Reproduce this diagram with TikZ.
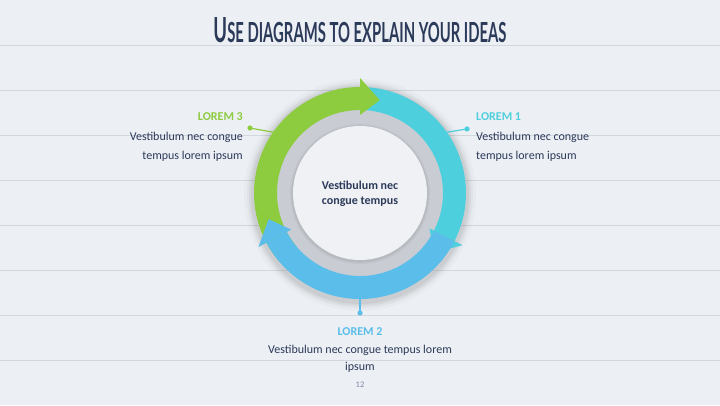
\documentclass[tikz,border=0pt]{standalone}
\usepackage{fontspec}
\setmainfont{Carlito}
\newfontfamily\titlefont{Lato}
\definecolor{bgc}{HTML}{ECEFF3}
\definecolor{rulec}{HTML}{D3D8DF}
\definecolor{navy}{HTML}{2C3A5A}
\definecolor{gr}{HTML}{8DCB3F}
\definecolor{cy}{HTML}{4ECFDD}
\definecolor{bl}{HTML}{5ABDEA}
\definecolor{ringgray}{HTML}{C9CDD3}
\definecolor{innerc}{HTML}{EFF1F4}
\definecolor{pagec}{HTML}{7A88A3}
\tikzset{
  ruleline/.style={rulec, line width=0.8pt},
  bodytext/.style={navy, font=\fontsize{12}{14}\selectfont, inner sep=0pt},
  boldtext/.style={navy, font=\bfseries\fontsize{12}{14}\selectfont, inner sep=0pt},
  labeltext/.style={font=\bfseries\fontsize{12}{14}\selectfont, inner sep=0pt},
  conn/.style={line width=1.2pt},
}
\newcommand{\ringbody}[3]{\fill[#1] (#2:106) arc[start angle=#2, end angle=#3, radius=106] -- (#3:83) arc[start angle=#3, end angle=#2, radius=83] -- cycle;}
\newcommand{\ringhead}[3]{\fill[#1] (#2:115) -- (#3:95) -- (#2:78) -- cycle;}
\begin{document}
\begin{tikzpicture}[x=1pt,y=1pt]
\fill[bgc] (0,0) rectangle (720,405);
\useasboundingbox (0,0) rectangle (720,405);
\foreach \yy in {45,90,...,360} {\draw[ruleline] (0,405-\yy) -- (720,405-\yy);}
% title
\node[navy, inner sep=0pt, anchor=base] (title) at (360,362) {\resizebox{293pt}{25pt}{\titlefont\bfseries\fontsize{35}{38}\selectfont U\fontsize{28}{30}\selectfont SE DIAGRAMS TO EXPLAIN YOUR IDEAS}};
% ring
\begin{scope}[shift={(360,212)}]
  \foreach \rr/\op in {116/0.02,113/0.03,111/0.04,109/0.05} {\fill[black,opacity=\op] (0,-2) circle (\rr);}
  \fill[ringgray] (0,0) circle (90);
  \foreach \rr/\op in {70/0.04,68.5/0.05} {\fill[black,opacity=\op] (0,-1) circle (\rr);}
  \fill[innerc] (0,0) circle (67);
  \ringbody{cy}{86}{-27}
  \ringhead{cy}{-27}{-39}
  \ringbody{gr}{220}{90}
  \ringhead{gr}{90}{78}
  \ringbody{bl}{-27}{-152}
  \ringhead{bl}{208}{196}
  \coordinate (e1) at (35:106);
  \coordinate (e3) at (145:106);
  \coordinate (e2) at (-90:106);
\end{scope}
\node[boldtext] (c1) at (360,220) {Vestibulum nec};
\node[boldtext] (c2) at (360,203) {congue tempus};
% connectors
\coordinate (d1) at (467,276);
\coordinate (d3) at (250,277);
\coordinate (d2) at (360,92);
\draw[conn, cy] (d1) -- (e1);
\fill[cy] (d1) circle (2.6);
\draw[conn, gr] (d3) -- (e3);
\fill[gr] (d3) circle (2.6);
\draw[conn, bl] (d2) -- (e2);
\fill[bl] (d2) circle (2.6);
% labels
\node[labeltext, cy, anchor=base west] (l1) at (476,284) {LOREM 1};
\node[bodytext, anchor=base west] (t1a) at (476,265) {Vestibulum nec congue};
\node[bodytext, anchor=base west] (t1b) at (476,246) {tempus lorem ipsum};
\node[labeltext, gr, anchor=base east] (l3) at (243,284) {LOREM 3};
\node[bodytext, anchor=base east] (t3a) at (243,265) {Vestibulum nec congue};
\node[bodytext, anchor=base east] (t3b) at (243,246) {tempus lorem ipsum};
\node[labeltext, bl, anchor=base] (l2) at (360,70) {LOREM 2};
\node[bodytext, anchor=base] (t2a) at (360,52) {Vestibulum nec congue tempus lorem};
\node[bodytext, anchor=base] (t2b) at (360,35) {ipsum};
\node[pagec, font=\fontsize{8.5}{9}\selectfont, inner sep=0pt] (pg) at (360,20) {12};
\end{tikzpicture}
\end{document}
